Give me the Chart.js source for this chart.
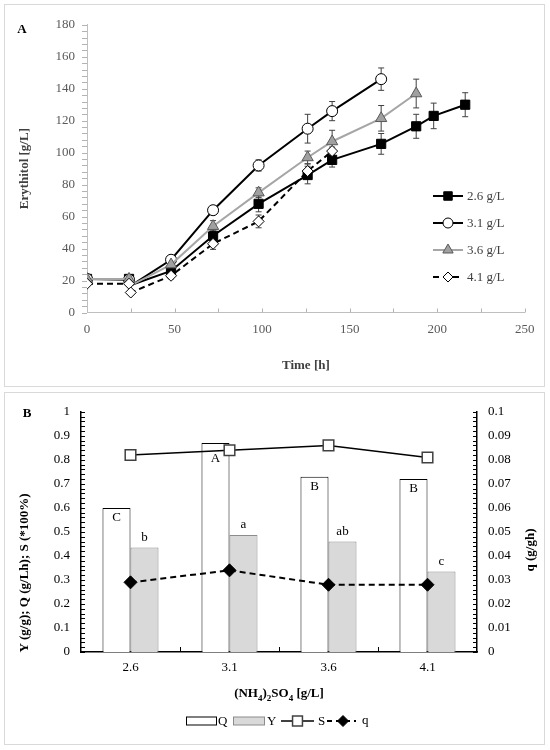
<!DOCTYPE html>
<html>
<head>
<meta charset="utf-8">
<script src="https://cdn.jsdelivr.net/npm/chart.js@4.4.0/dist/chart.umd.min.js"></script>
<style>
  body { margin: 0; background: #fff; }
  .panel { position: absolute; left: 4px; width: 539px; border: 1px solid #d9d9d9; background: #fff; }
  #panelA { top: 4px; height: 381px; }
  #panelB { top: 392px; height: 351px; }
  canvas { display: block; }
</style>
</head>
<body>
<div class="panel" id="panelA"><canvas id="chartA" width="539" height="381"></canvas></div>
<div class="panel" id="panelB"><canvas id="chartB" width="539" height="351"></canvas></div>
<script>
// ---- panel A: erythritol over time ----
const time26 = [0, 24, 26, 48, 72, 98, 126, 140, 168, 188, 198, 216];
const ery26 = [21, 21, 17.5, 26, 48, 68, 86, 95.5, 105.5, 116.5, 123, 130];
const err26 = [0, 0, 0, 2, 3, 5, 5.5, 4.5, 6.5, 7.5, 8, 7.5];

const time31 = [0, 24, 26, 48, 72, 98, 126, 140, 168];
const ery31 = [21, 20.5, 17.5, 33, 64, 92, 115, 126, 146];
const err31 = [0, 0, 0, 2.5, 2.5, 3.5, 9, 6, 7];

const time36 = [0, 24, 26, 48, 72, 98, 126, 140, 168, 188];
const ery36 = [21, 21, 17.5, 30, 54, 75, 97, 107, 121.5, 137];
const err36 = [0, 0, 0, 2, 3.5, 3, 4, 7, 8, 9];

const time41 = [0, 24, 25, 48, 72, 98, 126, 140];
const ery41 = [18, 18, 12.5, 23, 43, 57, 88.5, 101];
const err41 = [0, 0, 0, 2, 3.5, 4, 4.5, 2.5];

const dipTime = 26; // short sampling dip after 24 h, drawn without a marker

// ---- panel B: fermentation parameters ----
const concentrations = ['2.6', '3.1', '3.6', '4.1'];
const qProd = [0.6, 0.87, 0.73, 0.72];
const yYield = [0.435, 0.487, 0.46, 0.335];
const sSel = [0.82, 0.84, 0.86, 0.81];
const qSpec = [0.029, 0.034, 0.028, 0.028];
const qLetters = ['C', 'A', 'B', 'B'];
const yLetters = ['b', 'a', 'ab', 'c'];

const serif = "'Liberation Serif', 'Times New Roman', serif";
Chart.defaults.font.family = serif;

function points(times, vals) {
    return times.map((t, i) => ({ x: t, y: vals[i] }));
}

// 0.10 -> "0.1", 1.0 -> "1"
function plainNumber(value) {
    return String(+Number(value).toFixed(3));
}

function drawMarker(ctx, style, x, y, r, fill, stroke, lw) {
    ctx.save();
    ctx.setLineDash([]);
    ctx.fillStyle = fill;
    ctx.strokeStyle = stroke;
    ctx.lineWidth = lw;
    ctx.beginPath();
    if (style === 'rect') {
        const s = r * Math.SQRT1_2;
        ctx.rect(x - s, y - s, 2 * s, 2 * s);
    } else if (style === 'circle') {
        ctx.arc(x, y, r, 0, Math.PI * 2);
    } else if (style === 'triangle') {
        ctx.moveTo(x, y - r);
        ctx.lineTo(x + 0.866 * r, y + 0.5 * r);
        ctx.lineTo(x - 0.866 * r, y + 0.5 * r);
        ctx.closePath();
    } else if (style === 'rectRot') {
        ctx.moveTo(x, y - r);
        ctx.lineTo(x + r, y);
        ctx.lineTo(x, y + r);
        ctx.lineTo(x - r, y);
        ctx.closePath();
    }
    ctx.fill();
    ctx.stroke();
    ctx.restore();
}

// short tick marks along an axis, filled as 1px rects so they can sit inside the plot
function tickMarks(ctx, pixels, along, from, to, color) {
    ctx.save();
    ctx.fillStyle = color;
    const a = Math.min(from, to), len = Math.abs(to - from);
    pixels.forEach(p => {
        const q = Math.round(p);
        if (along === 'y') ctx.fillRect(a, q, len, 1);
        else ctx.fillRect(q, a, 1, len);
    });
    ctx.restore();
}

const seriesA = [
    { label: '2.6 g/L', times: time26, vals: ery26, err: err26, line: '#000', width: 2, dash: [], style: 'rect', r: 6.5, fill: '#000', stroke: '#000' },
    { label: '3.1 g/L', times: time31, vals: ery31, err: err31, line: '#000', width: 2, dash: [], style: 'circle', r: 5.5, fill: '#fff', stroke: '#000' },
    { label: '3.6 g/L', times: time36, vals: ery36, err: err36, line: '#a6a6a6', width: 2, dash: [], style: 'triangle', r: 6.5, fill: '#a0a0a0', stroke: '#595959' },
    { label: '4.1 g/L', times: time41, vals: ery41, err: err41, line: '#000', width: 2, dash: [6, 4], style: 'rectRot', r: 5.5, fill: '#fff', stroke: '#000' }
];

const extrasA = {
    id: 'extrasA',
    beforeDatasetsDraw(chart) {
        const { ctx, scales: { x, y } } = chart;
        ctx.save();
        ctx.strokeStyle = '#404040';
        ctx.lineWidth = 1;
        ctx.beginPath();
        seriesA.forEach(s => s.times.forEach((t, i) => {
            const e = s.err[i];
            if (!e) return;
            const px = x.getPixelForValue(t);
            const top = y.getPixelForValue(s.vals[i] + e);
            const bot = y.getPixelForValue(s.vals[i] - e);
            ctx.moveTo(px, top); ctx.lineTo(px, bot);
            ctx.moveTo(px - 3, top); ctx.lineTo(px + 3, top);
            ctx.moveTo(px - 3, bot); ctx.lineTo(px + 3, bot);
        }));
        ctx.stroke();
        ctx.restore();
    },
    afterDraw(chart) {
        const { ctx, chartArea, scales: { x, y } } = chart;
        const yMinor = [];
        for (let v = 0; v <= 180; v += 4) yMinor.push(y.getPixelForValue(v));
        const xMinor = [];
        for (let t = 25; t <= 250; t += 25) xMinor.push(x.getPixelForValue(t));
        tickMarks(ctx, yMinor, 'y', chartArea.left - 5, chartArea.left, '#b3b3b3');
        tickMarks(ctx, xMinor, 'x', chartArea.bottom - 4, chartArea.bottom, '#b3b3b3');

        ctx.save();
        ctx.fillStyle = '#000';
        ctx.font = 'bold 13px ' + serif;
        ctx.textAlign = 'center';
        ctx.textBaseline = 'middle';
        ctx.fillText('A', 17, 25);
        // legend
        ctx.font = '13px ' + serif;
        ctx.textAlign = 'left';
        seriesA.forEach((s, i) => {
            const ly = 191 + i * 27;
            ctx.save();
            ctx.strokeStyle = s.line;
            ctx.lineWidth = s.width;
            ctx.setLineDash(s.dash);
            ctx.beginPath();
            ctx.moveTo(428, ly);
            ctx.lineTo(458, ly);
            ctx.stroke();
            ctx.restore();
            drawMarker(ctx, s.style, 443, ly, s.r - 0.5, s.fill, s.stroke, 1);
            ctx.fillStyle = '#404040';
            ctx.fillText(s.label, 462, ly + 1);
        });
        ctx.restore();
    }
};

new Chart(document.getElementById('chartA'), {
    type: 'line',
    data: {
        datasets: seriesA.map(s => ({
            label: s.label,
            data: points(s.times, s.vals),
            borderColor: s.line,
            borderWidth: s.width,
            borderDash: s.dash,
            tension: 0,
            pointStyle: s.style,
            pointRadius: s.times.map(t => t === dipTime ? 0 : s.r),
            pointBackgroundColor: s.fill,
            pointBorderColor: s.stroke,
            pointBorderWidth: 1
        })).reverse()
    },
    options: {
        responsive: false,
        animation: false,
        layout: { padding: { top: 14.5, right: 17, left: 0, bottom: 0 } },
        plugins: { legend: { display: false }, tooltip: { enabled: false } },
        scales: {
            x: {
                type: 'linear', min: 0, max: 250,
                ticks: { stepSize: 50, color: '#595959', font: { size: 13 }, padding: 9.5 },
                grid: { display: false, drawTicks: false },
                border: { color: '#bfbfbf', width: 1 },
                title: { display: true, text: 'Time [h]', color: '#404040', font: { size: 13, weight: 'bold' }, padding: { top: 0, bottom: 13 } },
                afterFit: s => { s.height = 73.5; }
            },
            y: {
                min: 0, max: 180,
                ticks: { stepSize: 20, color: '#595959', font: { size: 13 }, padding: 12 },
                grid: { display: false, drawTicks: false },
                border: { color: '#bfbfbf', width: 1 },
                title: { display: true, text: 'Erythitol [g/L]', color: '#404040', font: { size: 13, weight: 'bold' }, padding: { top: 12, bottom: 0 } },
                afterFit: s => { s.width = 82; }
            }
        }
    },
    plugins: [extrasA]
});

// ---- panel B ----
const extrasB = {
    id: 'extrasB',
    afterDatasetsDraw(chart) {
        const { ctx } = chart;
        ctx.save();
        ctx.fillStyle = '#000';
        ctx.font = '13px ' + serif;
        ctx.textAlign = 'center';
        const qBars = chart.getDatasetMeta(0).data;
        const yBars = chart.getDatasetMeta(1).data;
        const sPts = chart.getDatasetMeta(2).data;
        ctx.textBaseline = 'top';
        qBars.forEach((b, i) => ctx.fillText(qLetters[i], b.x, Math.max(b.y + 3, sPts[i].y + 2)));
        ctx.textBaseline = 'alphabetic';
        yBars.forEach((b, i) => ctx.fillText(yLetters[i], b.x, b.y - 7));
        ctx.restore();
    },
    afterDraw(chart) {
        const { ctx, chartArea, scales: { x, y, y2 } } = chart;
        const leftMinor = [];
        for (let i = 0; i <= 50; i++) leftMinor.push(y.getPixelForValue(i / 50));
        const rightMinor = [];
        for (let i = 0; i <= 50; i++) rightMinor.push(y2.getPixelForValue(i / 500));
        const bounds = [];
        for (let i = 0; i < concentrations.length - 1; i++) bounds.push((x.getPixelForValue(i) + x.getPixelForValue(i + 1)) / 2);
        tickMarks(ctx, leftMinor, 'y', chartArea.left, chartArea.left + 4, '#000');
        tickMarks(ctx, rightMinor, 'y', chartArea.right - 4, chartArea.right, '#000');
        tickMarks(ctx, bounds, 'x', chartArea.bottom - 5, chartArea.bottom, '#000');

        ctx.save();
        ctx.fillStyle = '#000';
        ctx.font = 'bold 13px ' + serif;
        ctx.textAlign = 'center';
        ctx.textBaseline = 'middle';
        ctx.fillText('B', 22, 21);

        // rotated axis titles
        ctx.save();
        ctx.translate(19.5, 180);
        ctx.rotate(-Math.PI / 2);
        ctx.fillText('Y (g/g); Q (g/Lh); S (*100%)', 0, 0);
        ctx.restore();
        ctx.save();
        ctx.translate(526, 157);
        ctx.rotate(-Math.PI / 2);
        ctx.fillText('q (g/gh)', 0, 0);
        ctx.restore();

        // x title with subscripts
        const parts = [['(NH', false], ['4', true], [')', false], ['2', true], ['SO', false], ['4', true], [' [g/L]', false]];
        const fontFor = sub => sub ? 'bold 9px ' + serif : 'bold 13px ' + serif;
        let total = 0;
        parts.forEach(([t, sub]) => { ctx.font = fontFor(sub); total += ctx.measureText(t).width; });
        let tx = (chartArea.left + chartArea.right) / 2 - total / 2;
        ctx.textAlign = 'left';
        ctx.textBaseline = 'alphabetic';
        parts.forEach(([t, sub]) => {
            ctx.font = fontFor(sub);
            ctx.fillText(t, tx, sub ? 308 : 304);
            tx += ctx.measureText(t).width;
        });

        // legend
        const ly = 328;
        ctx.font = '13px ' + serif;
        ctx.textBaseline = 'middle';
        ctx.lineWidth = 1;
        ctx.fillStyle = '#fff';
        ctx.strokeStyle = '#000';
        ctx.fillRect(181.5, ly - 4, 30, 8);
        ctx.strokeRect(181.5, ly - 4, 30, 8);
        ctx.fillStyle = '#000';
        ctx.fillText('Q', 213, ly + 1);
        ctx.fillStyle = '#d9d9d9';
        ctx.strokeStyle = '#8c8c8c';
        ctx.fillRect(228.5, ly - 4, 31, 8);
        ctx.strokeRect(228.5, ly - 4, 31, 8);
        ctx.fillStyle = '#000';
        ctx.fillText('Y', 262, ly + 1);
        ctx.strokeStyle = '#000';
        ctx.lineWidth = 1.5;
        ctx.beginPath();
        ctx.moveTo(276, ly); ctx.lineTo(309, ly);
        ctx.stroke();
        drawMarker(ctx, 'rect', 292.5, ly, 7, '#fff', '#404040', 1.5);
        ctx.fillText('S', 313, ly + 1);
        ctx.lineWidth = 2;
        ctx.setLineDash([5, 4]);
        ctx.beginPath();
        ctx.moveTo(322, ly); ctx.lineTo(351, ly);
        ctx.stroke();
        ctx.setLineDash([]);
        drawMarker(ctx, 'rectRot', 338, ly, 5.5, '#000', '#000', 1);
        ctx.fillText('q', 357, ly);
        ctx.restore();
    }
};

new Chart(document.getElementById('chartB'), {
    type: 'bar',
    data: {
        labels: concentrations,
        datasets: [
            { label: 'Q', data: qProd, backgroundColor: '#fff', borderColor: '#000', borderWidth: 1,
              categoryPercentage: 0.566, barPercentage: 1, order: 2, yAxisID: 'y' },
            { label: 'Y', data: yYield, backgroundColor: '#d9d9d9', borderColor: '#8c8c8c', borderWidth: 1,
              categoryPercentage: 0.566, barPercentage: 1, order: 2, yAxisID: 'y' },
            { type: 'line', label: 'S', data: sSel, borderColor: '#000', borderWidth: 1.5, tension: 0,
              pointStyle: 'rect', pointRadius: 7.5, pointBackgroundColor: '#fff', pointBorderColor: '#404040',
              pointBorderWidth: 1.5, order: 1, yAxisID: 'y' },
            { type: 'line', label: 'q', data: qSpec, borderColor: '#000', borderWidth: 2, borderDash: [6, 4], tension: 0,
              pointStyle: 'rectRot', pointRadius: 6.5, pointBackgroundColor: '#000', pointBorderColor: '#000',
              pointBorderWidth: 1, order: 1, yAxisID: 'y2' }
        ]
    },
    options: {
        responsive: false,
        animation: false,
        layout: { padding: { top: 18, right: 0, left: 0, bottom: 0 } },
        plugins: { legend: { display: false }, tooltip: { enabled: false } },
        scales: {
            x: {
                z: 1,
                ticks: { color: '#000', font: { size: 13 }, padding: 8 },
                grid: { display: false, drawTicks: false },
                border: { color: '#000', width: 1.5 },
                afterFit: s => { s.height = 92; }
            },
            y: {
                position: 'left', min: 0, max: 1,
                ticks: { stepSize: 0.1, color: '#000', font: { size: 13 }, padding: 11, callback: plainNumber },
                grid: { display: false, drawTicks: false },
                border: { color: '#000', width: 1.5 },
                afterFit: s => { s.width = 76; }
            },
            y2: {
                position: 'right', min: 0, max: 0.1,
                ticks: { stepSize: 0.01, color: '#000', font: { size: 13 }, padding: 11, callback: plainNumber },
                grid: { display: false, drawTicks: false },
                border: { color: '#000', width: 1.5 },
                afterFit: s => { s.width = 67; }
            }
        }
    },
    plugins: [extrasB]
});
</script>
</body>
</html>
